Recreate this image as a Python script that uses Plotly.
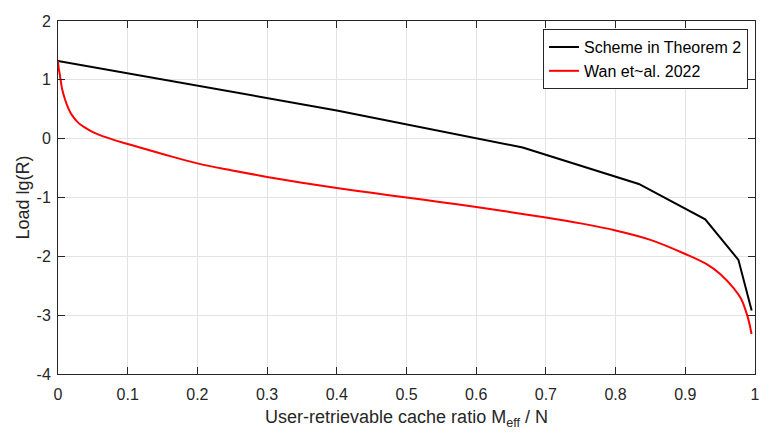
import plotly.graph_objects as go

# Scheme in Theorem 2 (piecewise linear)
scheme_x = [0.0, 0.4, 0.6667, 0.8333, 0.9286, 0.9762, 0.9952]
scheme_y = [1.32, 0.48, -0.15, -0.77, -1.37, -2.06, -2.92]

# Wan et~al. 2022
wan_x = [0.0, 0.001, 0.003, 0.006, 0.01, 0.015, 0.02, 0.03, 0.04, 0.05, 0.06,
         0.08, 0.1, 0.12, 0.15, 0.2, 0.25, 0.3, 0.35, 0.4, 0.45, 0.5, 0.55, 0.6,
         0.65, 0.7, 0.75, 0.8, 0.85, 0.9, 0.93, 0.95, 0.97, 0.98, 0.99, 0.995]
wan_y = [1.32, 1.2, 1.06, 0.84, 0.67, 0.51, 0.40, 0.26, 0.18, 0.11, 0.06,
         -0.02, -0.09, -0.16, -0.26, -0.42, -0.54, -0.65, -0.75, -0.84, -0.92,
         -1.0, -1.08, -1.16, -1.25, -1.34, -1.44, -1.56, -1.72, -1.96, -2.13,
         -2.3, -2.55, -2.72, -3.05, -3.32]

x_ticks = [0, 0.1, 0.2, 0.3, 0.4, 0.5, 0.6, 0.7, 0.8, 0.9, 1]
x_labels = ["0", "0.1", "0.2", "0.3", "0.4", "0.5", "0.6", "0.7", "0.8", "0.9", "1"]
y_ticks = [-4, -3, -2, -1, 0, 1, 2]
y_labels = ["-4", "-3", "-2", "-1", "0", "1", "2"]

fig = go.Figure()
fig.add_trace(go.Scatter(x=scheme_x, y=scheme_y, mode="lines",
                         name="Scheme in Theorem 2",
                         line=dict(color="black", width=2)))
fig.add_trace(go.Scatter(x=wan_x, y=wan_y, mode="lines",
                         name="Wan et~al. 2022",
                         line=dict(color="#ff0000", width=2, shape="spline",
                                   smoothing=1)))

axis_common = dict(showline=True, linecolor="#262626", linewidth=1, mirror="ticks",
                   ticks="inside", ticklen=7, tickcolor="#262626",
                   showgrid=True, gridcolor="#e3e3e3", gridwidth=1,
                   zeroline=False, tickfont=dict(size=16, color="#262626"))

fig.update_layout(
    width=775, height=446,
    margin=dict(l=58, r=20, t=21, b=72),
    paper_bgcolor="white", plot_bgcolor="white",
    font=dict(family="Liberation Sans, Arial, sans-serif", color="#262626"),
    xaxis=dict(range=[0, 1], tickvals=x_ticks, ticktext=x_labels,
               ticklabelstandoff=6,
               title=dict(text="User-retrievable cache ratio M<sub>eff</sub> / N",
                          font=dict(size=18), standoff=8),
               **axis_common),
    yaxis=dict(range=[-4, 2], tickvals=y_ticks, ticktext=y_labels,
               ticklabelstandoff=3,
               title=dict(text="Load lg(R)", font=dict(size=18), standoff=2),
               **axis_common),
    legend=dict(x=0.99, y=0.977, xanchor="right", yanchor="top",
                bgcolor="white", bordercolor="#262626", borderwidth=1,
                font=dict(size=16, color="black"), tracegroupgap=0),
    showlegend=True,
)

fig.write_html("out.html")
